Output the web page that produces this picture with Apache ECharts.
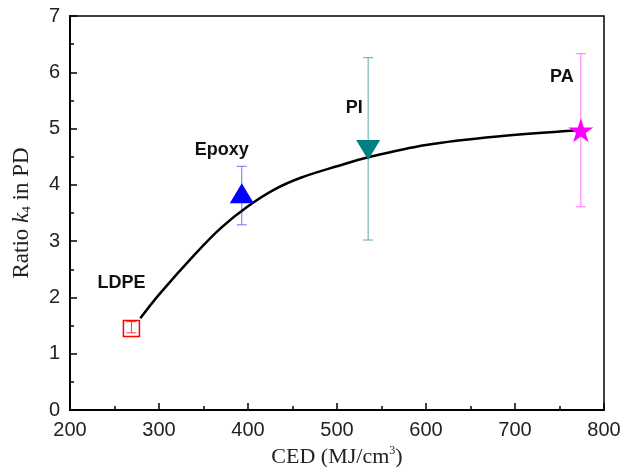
<!DOCTYPE html>
<html>
<head>
<meta charset="utf-8">
<script src="https://cdn.jsdelivr.net/npm/echarts@6/dist/echarts.min.js"></script>
<style>
  html, body { margin: 0; padding: 0; background: #fff; }
  #chart { width: 622px; height: 467px; }
</style>
</head>
<body>
<div id="chart"></div>
<script>
// materials and measured points
const materials = ['LDPE', 'Epoxy', 'PI', 'PA']
const cedValues = [269, 393, 535, 774]
const ratioValues = [1.45, 3.85, 4.62, 4.97]
const errLow = [1.37, 3.29, 3.02, 3.61]
const errHigh = [1.57, 4.33, 6.26, 6.33]

// fitted curve
const fitX = [279, 300, 340, 370, 400, 430, 460, 500, 535, 600, 680, 772]
const fitY = [1.63, 2.05, 2.76, 3.24, 3.62, 3.92, 4.13, 4.33, 4.49, 4.71, 4.86, 4.97]

const xTicks = [200, 300, 400, 500, 600, 700, 800]
const yTicks = [0, 1, 2, 3, 4, 5, 6, 7]

const markColors = ['#ff0000', '#0000ff', '#008080', '#ff00ff']
const barColors = ['#ff3030', '#7070ff', '#62a8a8', '#ff70ff']
const symbols = [
  'rect',
  'triangle',
  'triangle',
  'path://M50,0 L61.8,35.1 L98.9,35.1 L68.9,56.8 L80.3,91.9 L50,70.2 L19.7,91.9 L31.1,56.8 L1.1,35.1 L38.2,35.1 Z'
]
const symbolSizes = [[16, 16], [24, 20], [24, 20], [25, 24]]
const symbolRotates = [0, 0, 180, 0]
const labelOffsets = [[-10, -45], [-20, -43], [-14, -42], [-19, -53]]

const chart = echarts.init(document.getElementById('chart'))

const fitData = fitX.map((x, i) => [x, fitY[i]])
const errData = cedValues.map((x, i) => [x, errLow[i], errHigh[i], i])

const pointData = cedValues.map((x, i) => ({
  value: [x, ratioValues[i]],
  symbol: symbols[i],
  symbolSize: symbolSizes[i],
  symbolRotate: symbolRotates[i],
  itemStyle: i === 0
    ? { color: 'rgba(255,255,255,0)', borderColor: markColors[i], borderWidth: 1.5, opacity: 1 }
    : { color: markColors[i], opacity: 1 },
  label: {
    show: true,
    formatter: materials[i],
    position: 'inside',
    offset: labelOffsets[i]
  }
}))

const option = {
  animation: false,
  grid: {
    left: 70, right: 18, top: 16, bottom: 57,
    containLabel: false,
    outerBoundsMode: 'none',
    show: true, borderColor: '#000', borderWidth: 1.5
  },
  xAxis: {
    type: 'value',
    min: xTicks[0],
    max: xTicks[xTicks.length - 1],
    interval: 100,
    name: '{a|CED (MJ/cm}{s|3}{a|)}',
    nameLocation: 'middle',
    nameGap: 31,
    nameTextStyle: {
      rich: {
        a: { fontFamily: 'Liberation Serif', fontSize: 22, color: '#222' },
        s: { fontFamily: 'Liberation Serif', fontSize: 12, color: '#222', verticalAlign: 'top', padding: [0, 0, 12, 0] }
      }
    },
    axisLine: { onZero: false, lineStyle: { color: '#000', width: 2 } },
    axisTick: { inside: true, length: 7, lineStyle: { color: '#000', width: 1.5 } },
    minorTick: { show: true, splitNumber: 2, length: 4, lineStyle: { color: '#000', width: 1.5 } },
    axisLabel: { fontFamily: 'Liberation Sans', fontSize: 20, color: '#222', margin: 10 },
    splitLine: { show: false }
  },
  yAxis: {
    type: 'value',
    min: yTicks[0],
    max: yTicks[yTicks.length - 1],
    interval: 1,
    name: '{a|Ratio }{i|k}{sub|4}{a| in PD}',
    nameLocation: 'middle',
    nameGap: 37,
    nameTextStyle: {
      rich: {
        a: { fontFamily: 'Liberation Serif', fontSize: 23, color: '#222' },
        i: { fontFamily: 'Liberation Serif', fontSize: 23, fontStyle: 'italic', color: '#222' },
        sub: { fontFamily: 'Liberation Serif', fontSize: 13, color: '#222', verticalAlign: 'bottom', padding: [10, 0, 0, 0] }
      }
    },
    axisLine: { onZero: false, lineStyle: { color: '#000', width: 2 } },
    axisTick: { inside: true, length: 7, lineStyle: { color: '#000', width: 1.5 } },
    minorTick: { show: true, splitNumber: 2, length: 4, lineStyle: { color: '#000', width: 1.5 } },
    axisLabel: { fontFamily: 'Liberation Sans', fontSize: 20, color: '#222', margin: 10 },
    splitLine: { show: false }
  },
  series: [
    {
      name: 'error',
      type: 'custom',
      data: errData,
      z: 2,
      renderItem: (params, api) => {
        const x = api.value(0)
        const lo = api.coord([x, api.value(1)])
        const hi = api.coord([x, api.value(2)])
        const c = barColors[api.value(3)]
        const w = 5
        return {
          type: 'group',
          children: [
            { type: 'line', shape: { x1: lo[0], y1: lo[1], x2: hi[0], y2: hi[1] }, style: { stroke: c, lineWidth: 1 } },
            { type: 'line', shape: { x1: lo[0] - w, y1: lo[1], x2: lo[0] + w, y2: lo[1] }, style: { stroke: c, lineWidth: 1 } },
            { type: 'line', shape: { x1: hi[0] - w, y1: hi[1], x2: hi[0] + w, y2: hi[1] }, style: { stroke: c, lineWidth: 1 } }
          ]
        }
      }
    },
    {
      name: 'fit',
      type: 'line',
      data: fitData,
      smooth: 0.35,
      showSymbol: false,
      z: 3,
      lineStyle: { color: '#000', width: 2.5 }
    },
    {
      name: 'points',
      type: 'scatter',
      data: pointData,
      z: 4,
      label: {
        fontFamily: 'Liberation Sans',
        fontWeight: 'bold',
        fontSize: 18,
        color: '#111'
      }
    }
  ]
}

chart.setOption(option)
</script>
</body>
</html>
